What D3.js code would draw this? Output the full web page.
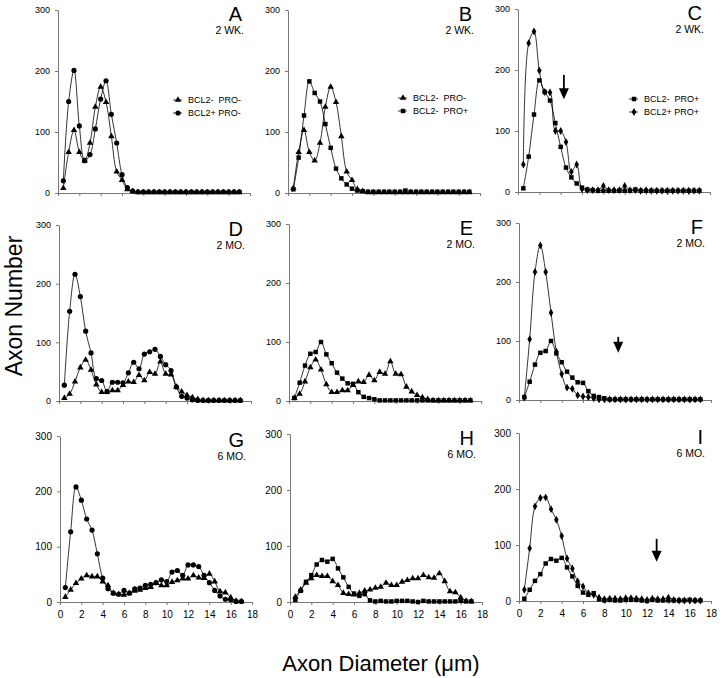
<!DOCTYPE html>
<html><head><meta charset="utf-8">
<script src="https://cdn.jsdelivr.net/npm/d3@7"></script>
<style>
body{margin:0;background:#fff}
text{font-family:"Liberation Sans",Arial,Helvetica,sans-serif;fill:#000}
</style>
</head><body>
<svg id="c" width="720" height="678"></svg>
<script>
// ---------- DATA ----------
const diameters = [0.5,1,1.5,2,2.5,3,3.5,4,4.5,5,5.5,6,6.5,7,7.5,8,8.5,9,9.5,10,10.5,11,11.5,12,12.5,13,13.5,14,14.5,15,15.5,16,16.5,17];
const xTicks = [0,2,4,6,8,10,12,14,16,18];
const yTicks = [0,100,200,300];
const panelLetters = ["A","B","C","D","E","F","G","H","I"];
const panelAges = ["2 WK.","2 WK.","2 WK.","2 MO.","2 MO.","2 MO.","6 MO.","6 MO.","6 MO."];
const seriesNames = ["BCL2-  PRO-","BCL2+ PRO-","BCL2-  PRO+","BCL2+ PRO+"];

// 2 weeks
const minusMinus2wk = [8,67,103,67,53,82,141,174,149,93,35,21,6,3,1,1,1,1,1,1,1,1,1,1,1,1,1,1,1,1,1,1,1,1];
const plusMinus2wk  = [20,150,201,110,53,63,105,154,184,129,82,30,9,3,2,2,2,2,2,2,2,2,2,2,2,2,2,2,2,2,2,2,2,2];
const minusPlus2wk  = [6,58,127,183,164,150,113,74,40,24,14,7,4,3,2,2,2,2,2,2,2,4,2,2,2,2,2,2,2,2,2,2,2,2];
const plusPlus2wk   = [45,244,263,199,164,163,100,100,82,33,45,5,3,3,3,10,3,3,3,10,3,3,2,3,2,2,2,2,2,2,2,2,2,2];
// 2 months
const minusMinus2mo = [5,12,33,57,70,53,28,15,15,18,18,27,33,32,44,35,49,46,67,46,45,24,16,10,6,3,1,1,1,1,1,1,1,1];
const plusMinus2mo  = [27,153,216,178,119,82,38,35,16,32,32,31,48,66,55,80,84,88,76,62,52,24,8,5,2,1,1,1,1,1,1,1,1,1];
const minusPlus2mo  = [5,31,60,80,83,100,79,64,48,38,30,29,15,7,5,3,1,1,1,1,1,1,1,1,1,1,1,1,1,1,1,1,1,1];
const plusPlus2mo   = [4,103,217,262,217,148,82,44,21,19,8,6,5,3,1,1,1,1,1,1,1,1,1,1,1,1,1,1,1,1,1,1,1,1];
// 6 months
const minusMinus6mo = [9,22,34,42,48,46,46,37,30,16,14,13,16,20,22,25,27,34,30,30,36,39,42,42,48,44,43,51,37,19,17,8,2,1];
const plusMinus6mo  = [26,127,208,184,150,130,87,43,24,16,14,21,16,24,25,30,32,35,40,37,54,57,48,67,67,64,48,35,21,11,5,4,1,1];
const minusPlus6mo  = [4,20,36,48,67,75,72,77,60,44,27,15,11,14,3,1,2,1,1,2,2,2,1,0,2,1,1,1,1,1,1,2,1,1];
const plusPlus6mo   = [20,94,169,184,185,164,145,116,76,58,35,26,14,11,6,3,4,4,3,5,5,4,3,2,4,3,3,6,2,1,1,1,1,1];

// arrows: [panel index, x diameter, top value, tip value]
const arrowPanels = [2,5,8];
const arrowX = [4.3,9.3,12.9];
const arrowTop = [192,107,111];
const arrowTip = [152,80,70];

// ---------- LAYOUT ----------
const frames = [
  {x0:58, yT:10, yB:193}, {x0:288,yT:10, yB:193}, {x0:518,yT:9,  yB:192},
  {x0:59, yT:225,yB:401}, {x0:289,yT:224,yB:401}, {x0:519,yT:223,yB:400},
  {x0:60, yT:436,yB:602}, {x0:290,yT:434,yB:602}, {x0:519,yT:433,yB:601}
];
const unitW = 10.67;

const symbols = {
  tri: d3.symbol().type(d3.symbolTriangle).size(18),
  cir: d3.symbol().type(d3.symbolCircle).size(21),
  sq:  d3.symbol().type(d3.symbolSquare).size(20),
  dia: d3.symbol().type(d3.symbolDiamond).size(18)
};

// [values, symbol, legend name index]; drawn in listed order (last on top)
const panelSeries = [
  [[minusMinus2wk,"tri",0],[plusMinus2wk,"cir",1]],
  [[minusMinus2wk,"tri",0],[minusPlus2wk,"sq",2]],
  [[plusPlus2wk,"dia",3],[minusPlus2wk,"sq",2]],
  [[minusMinus2mo,"tri",0],[plusMinus2mo,"cir",1]],
  [[minusMinus2mo,"tri",0],[minusPlus2mo,"sq",2]],
  [[plusPlus2mo,"dia",3],[minusPlus2mo,"sq",2]],
  [[minusMinus6mo,"tri",0],[plusMinus6mo,"cir",1]],
  [[minusMinus6mo,"tri",0],[minusPlus6mo,"sq",2]],
  [[plusPlus6mo,"dia",3],[minusPlus6mo,"sq",2]]
];
const legendOrder = [[0,1],[0,1],[1,0]];
const legendOffsets = [[130,90],[125,88],[126,90]];

const svg = d3.select("#c");

frames.forEach((f,i)=>{
  const x = d3.scaleLinear().domain([0,18]).range([f.x0, f.x0+18*unitW]);
  const y = d3.scaleLinear().domain([0,300]).range([f.yB, f.yT]);
  const g = svg.append("g");

  // axes
  const xa = d3.axisBottom(x).tickValues(xTicks).tickSize(3).tickSizeOuter(0).tickPadding(6)
     .tickFormat(i>=6 ? d3.format("d") : "");
  const gx = g.append("g").attr("transform",`translate(0,${f.yB})`).call(xa);
  gx.selectAll("text").attr("font-size",10);
  const ya = d3.axisLeft(y).tickValues(yTicks).tickSize(3).tickSizeOuter(0).tickPadding(5);
  const gy = g.append("g").attr("transform",`translate(${f.x0},0)`).call(ya);
  gy.selectAll("text").attr("font-size",i>=6?10:9);
  [gx,gy].forEach(a=>{
    a.select(".domain").attr("stroke","#777").attr("stroke-width",1);
    a.selectAll(".tick line").attr("stroke","#777");
    a.selectAll("text").style("font-family",'"Liberation Sans",Arial,sans-serif').attr("fill","#000");
  });

  // series
  const line = d3.line().x((d,k)=>x(diameters[k])).y(d=>y(d)).curve(d3.curveCatmullRom.alpha(0.5));
  panelSeries[i].forEach(([vals,sym])=>{
    g.append("path").attr("d",line(vals)).attr("fill","none").attr("stroke","#000").attr("stroke-width",0.8);
    g.selectAll(null).data(vals).enter().append("path")
      .attr("d",symbols[sym]())
      .attr("transform",(d,k)=>`translate(${x(diameters[k])},${y(d)})`)
      .attr("fill","#000");
  });

  // letter and age
  g.append("text").attr("x",x(18)-8).attr("y",f.yT+11).attr("text-anchor","end")
    .attr("font-size",20).text(panelLetters[i]);
  g.append("text").attr("x",x(18)-6).attr("y",f.yT+24).attr("text-anchor","end")
    .attr("font-size",10.5).text(panelAges[i]);

  // legend for top row
  if(i<3){
    const [lx,ly] = legendOffsets[i];
    legendOrder[i].forEach((si,k)=>{
      const [vals,sym,nameIdx] = panelSeries[i][si];
      const cy = f.yT+ly+k*13;
      const mx = f.x0+lx-10;
      g.append("line").attr("x1",mx-5).attr("x2",mx+4).attr("y1",cy).attr("y2",cy)
        .attr("stroke","#000").attr("stroke-width",0.8);
      g.append("path").attr("d",symbols[sym]()).attr("transform",`translate(${mx},${cy})`).attr("fill","#000");
      g.append("text").attr("x",f.x0+lx).attr("y",cy+3.2).attr("font-size",9)
        .attr("xml:space","preserve").style("white-space","pre").text(seriesNames[nameIdx]);
    });
  }
});

// arrows
arrowPanels.forEach((p,k)=>{
  const f = frames[p];
  const x = d3.scaleLinear().domain([0,18]).range([f.x0, f.x0+18*unitW]);
  const y = d3.scaleLinear().domain([0,300]).range([f.yB, f.yT]);
  const ax = x(arrowX[k]), yt = y(arrowTop[k]), yp = y(arrowTip[k]);
  svg.append("line").attr("x1",ax).attr("x2",ax).attr("y1",yt).attr("y2",yp-8)
    .attr("stroke","#000").attr("stroke-width",1.8);
  svg.append("path").attr("d",`M${ax-5},${yp-11}L${ax+5},${yp-11}L${ax},${yp}Z`).attr("fill","#000");
});

// axis titles
svg.append("text").attr("transform","translate(22,306) rotate(-90)").attr("text-anchor","middle")
  .attr("font-size",23).text("Axon Number");
svg.append("text").attr("x",381).attr("y",671).attr("text-anchor","middle")
  .attr("font-size",22).text("Axon Diameter (\u03bcm)");
</script>
</body></html>
